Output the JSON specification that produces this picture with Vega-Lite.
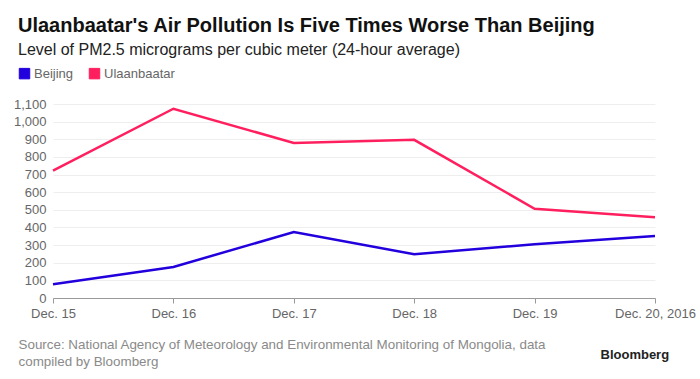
{
  "$schema": "https://vega.github.io/schema/vega-lite/v6.json",
  "width": 602,
  "height": 194,
  "autosize": {"type": "none"},
  "padding": {"left": 53, "top": 104, "right": 45, "bottom": 81},
  "background": "white",
  "title": {
    "text": "Ulaanbaatar's Air Pollution Is Five Times Worse Than Beijing",
    "subtitle": "Level of PM2.5 micrograms per cubic meter (24-hour average)",
    "anchor": "start",
    "frame": "group",
    "dx": -35,
    "offset": 9,
    "font": "Liberation Sans",
    "fontSize": 20,
    "fontWeight": "bold",
    "color": "#111111",
    "subtitleFont": "Liberation Sans",
    "subtitleFontSize": 16,
    "subtitleColor": "#222222",
    "subtitlePadding": 6
  },
  "data": {
    "values": [
      {"day": "Dec. 15", "city": "Beijing", "pm": 78},
      {"day": "Dec. 16", "city": "Beijing", "pm": 176},
      {"day": "Dec. 17", "city": "Beijing", "pm": 374},
      {"day": "Dec. 18", "city": "Beijing", "pm": 248},
      {"day": "Dec. 19", "city": "Beijing", "pm": 305},
      {"day": "Dec. 20, 2016", "city": "Beijing", "pm": 352},
      {"day": "Dec. 15", "city": "Ulaanbaatar", "pm": 722},
      {"day": "Dec. 16", "city": "Ulaanbaatar", "pm": 1073},
      {"day": "Dec. 17", "city": "Ulaanbaatar", "pm": 879},
      {"day": "Dec. 18", "city": "Ulaanbaatar", "pm": 897},
      {"day": "Dec. 19", "city": "Ulaanbaatar", "pm": 506},
      {"day": "Dec. 20, 2016", "city": "Ulaanbaatar", "pm": 458}
    ]
  },
  "mark": {"type": "line", "strokeWidth": 2.5, "strokeJoin": "miter"},
  "encoding": {
    "x": {
      "field": "day",
      "type": "ordinal",
      "sort": null,
      "scale": {"type": "point", "padding": 0},
      "axis": {
        "labelAngle": 0,
        "labelFont": "Liberation Sans",
        "labelFontSize": 13,
        "labelColor": "#666666",
        "labelPadding": 4,
        "domainColor": "#999999",
        "tickColor": "#999999",
        "tickSize": 5,
        "grid": false,
        "title": ["Source: National Agency of Meteorology and Environmental Monitoring of Mongolia, data", "compiled by Bloomberg"],
        "titleFont": "Liberation Sans",
        "titleFontSize": 13.4,
        "titleFontWeight": "normal",
        "titleColor": "#8a8a8a",
        "titleAnchor": "start",
        "titleAlign": "left",
        "titleBaseline": "top",
        "titleX": -35,
        "titleY": 39,
        "titleLineHeight": 17
      }
    },
    "y": {
      "field": "pm",
      "type": "quantitative",
      "scale": {"domain": [0, 1100], "nice": false},
      "axis": {
        "values": [0, 100, 200, 300, 400, 500, 600, 700, 800, 900, 1000, 1100],
        "format": ",d",
        "labelFont": "Liberation Sans",
        "labelFontSize": 13,
        "labelColor": "#666666",
        "labelPadding": 7,
        "domain": false,
        "ticks": false,
        "grid": true,
        "gridColor": "#eeeeee",
        "gridWidth": 1,
        "title": "Bloomberg",
        "titleFont": "Liberation Sans",
        "titleFontSize": 13,
        "titleFontWeight": "bold",
        "titleColor": "#222222",
        "titleAngle": 0,
        "titleAlign": "left",
        "titleBaseline": "middle",
        "titleX": 547,
        "titleY": 250
      }
    },
    "color": {
      "field": "city",
      "type": "nominal",
      "scale": {"domain": ["Beijing", "Ulaanbaatar"], "range": ["#2200dd", "#ff1f5e"]},
      "legend": {
        "title": null,
        "orient": "none",
        "legendX": -35,
        "legendY": -37,
        "direction": "horizontal",
        "symbolType": "square",
        "symbolSize": 110,
        "symbolStrokeWidth": 1,
        "labelFont": "Liberation Sans",
        "labelFontSize": 13,
        "labelColor": "#666666",
        "labelOffset": 3,
        "columnPadding": 13,
        "encode": {
          "symbols": {"update": {"fill": {"scale": "color", "field": "value"}, "fillOpacity": {"value": 1}}}
        }
      }
    }
  },
  "config": {"view": {"stroke": null}}
}
